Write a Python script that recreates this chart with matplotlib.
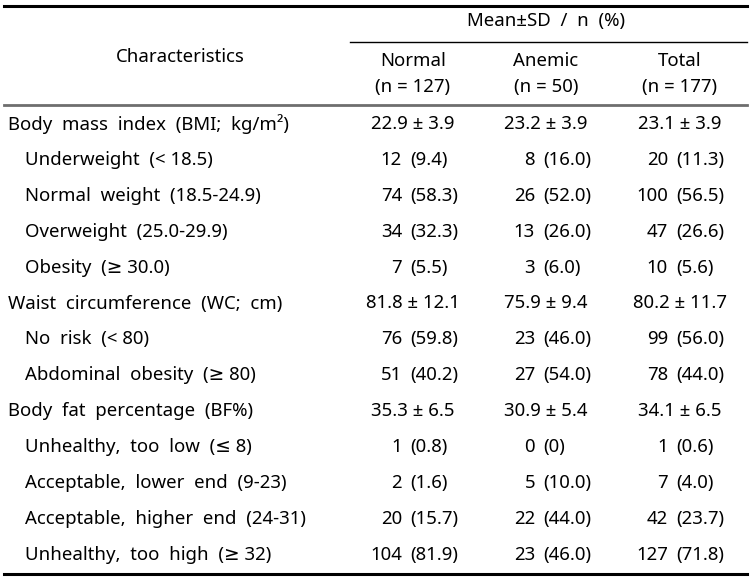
import matplotlib.pyplot as plt

plt.rcParams["font.family"] = ["Noto Sans", "DejaVu Sans"]

# table content
labels = [
    "Body  mass  index  (BMI;  kg/m²)",
    "Underweight  (< 18.5)",
    "Normal  weight  (18.5-24.9)",
    "Overweight  (25.0-29.9)",
    "Obesity  (≥ 30.0)",
    "Waist  circumference  (WC;  cm)",
    "No  risk  (< 80)",
    "Abdominal  obesity  (≥ 80)",
    "Body  fat  percentage  (BF%)",
    "Unhealthy,  too  low  (≤ 8)",
    "Acceptable,  lower  end  (9-23)",
    "Acceptable,  higher  end  (24-31)",
    "Unhealthy,  too  high  (≥ 32)",
]
is_header = [True, False, False, False, False, True, False, False, True,
             False, False, False, False]

groups = ["Normal", "Anemic", "Total"]
group_n = [127, 50, 177]

# mean ± SD rows as (mean, sd); count rows as (n, pct)
normal = [(22.9, 3.9), (12, "9.4"), (74, "58.3"), (34, "32.3"), (7, "5.5"),
          (81.8, 12.1), (76, "59.8"), (51, "40.2"),
          (35.3, 6.5), (1, "0.8"), (2, "1.6"), (20, "15.7"), (104, "81.9")]
anemic = [(23.2, 3.9), (8, "16.0"), (26, "52.0"), (13, "26.0"), (3, "6.0"),
          (75.9, 9.4), (23, "46.0"), (27, "54.0"),
          (30.9, 5.4), (0, "0"), (5, "10.0"), (22, "44.0"), (23, "46.0")]
total = [(23.1, 3.9), (20, "11.3"), (100, "56.5"), (47, "26.6"), (10, "5.6"),
         (80.2, 11.7), (99, "56.0"), (78, "44.0"),
         (34.1, 6.5), (1, "0.6"), (7, "4.0"), (42, "23.7"), (127, "71.8")]
columns = [normal, anemic, total]

W, H = 752, 582
fig = plt.figure(figsize=(W / 100, H / 100), dpi=100)
ax = fig.add_axes([0, 0, 1, 1])
ax.set_xlim(0, W)
ax.set_ylim(H, 0)
ax.axis("off")

fs = 13.4
col_center = [413, 546, 680]
col_split = [406, 539, 672]

# rules
ax.plot([4, 747], [6, 6], color="black", lw=2.2)
ax.plot([350, 747], [42, 42], color="black", lw=1.0)
ax.plot([4, 747], [105, 105], color="#6e6e6e", lw=2.0)
ax.plot([4, 747], [574, 574], color="black", lw=2.2)

# header
ax.text(180, 57, "Characteristics", ha="center", va="center", fontsize=fs)
ax.text(546, 21, "Mean±SD  /  n  (%)", ha="center", va="center", fontsize=fs)
for cx, g, n in zip(col_center, groups, group_n):
    ax.text(cx, 61, g, ha="center", va="center", fontsize=fs)
    ax.text(cx, 87, f"(n = {n})", ha="center", va="center", fontsize=fs)

y0, dy = 124, 35.9
for i, lab in enumerate(labels):
    y = y0 + i * dy
    x = 8 if is_header[i] else 25
    ax.text(x, y, lab, ha="left", va="center", fontsize=fs)
    for col, cx, sx in zip(columns, col_center, col_split):
        a, b = col[i]
        if is_header[i]:
            ax.text(cx, y, f"{a} ± {b}", ha="center", va="center", fontsize=fs)
        else:
            ax.text(sx - 4, y, f"{a}", ha="right", va="center", fontsize=fs)
            ax.text(sx + 4, y, f"({b})", ha="left", va="center", fontsize=fs)

fig.savefig("out.png", dpi=100)
